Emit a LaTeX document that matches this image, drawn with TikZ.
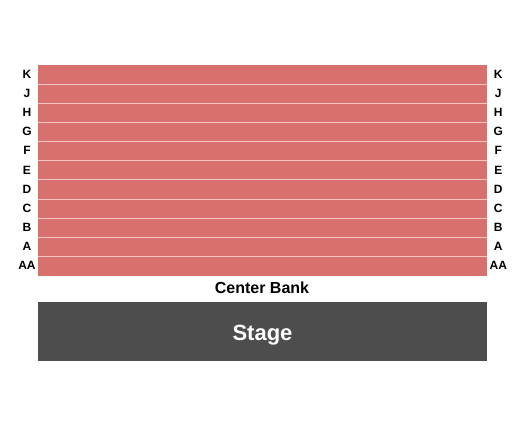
\documentclass[tikz,border=0pt]{standalone}
\usepackage{fontspec}
\setmainfont{Liberation Sans}
\definecolor{seat}{HTML}{D8706E}
\definecolor{sep}{HTML}{F2C4C2}
\definecolor{stagec}{HTML}{4D4D4D}
\begin{document}
\begin{tikzpicture}[x=1pt,y=-1pt,
  rowlab/.style={font=\fontsize{12}{12}\selectfont\bfseries, inner sep=0pt, anchor=base},
  rowbox/.style={fill=seat, draw=none}]
\useasboundingbox (0,0) rectangle (525,425);
\fill[white] (0,0) rectangle (525,425);
\foreach \lab [count=\i from 0] in {K,J,H,G,F,E,D,C,B,A,AA} {
  \pgfmathsetmacro{\ytop}{65+\i*19.15}
  \pgfmathsetmacro{\ybot}{65+(\i+1)*19.15}
  \pgfmathsetmacro{\ybase}{65+\i*19.15+13.4}
  \fill[seat] (38,\ytop) rectangle (487,\ybot);
  \node[rowlab] (L\i) at (27,\ybase) {\lab};
  \node[rowlab] (R\i) at (498.3,\ybase) {\lab};
}
\foreach \i in {1,...,10} {
  \pgfmathsetmacro{\ys}{65+\i*19.15}
  \draw[sep, line width=0.9pt] (38,\ys) -- (487,\ys);
}
\node[font=\fontsize{16}{16}\selectfont\bfseries, inner sep=0pt, anchor=base] (bank) at (262,293.6) {Center Bank};
\fill[stagec] (38,302) rectangle (487,361);
\node[font=\fontsize{22}{22}\selectfont\bfseries, text=white, inner sep=0pt, anchor=base] (stage) at (262.5,340.6) {Stage};
\end{tikzpicture}
\end{document}
